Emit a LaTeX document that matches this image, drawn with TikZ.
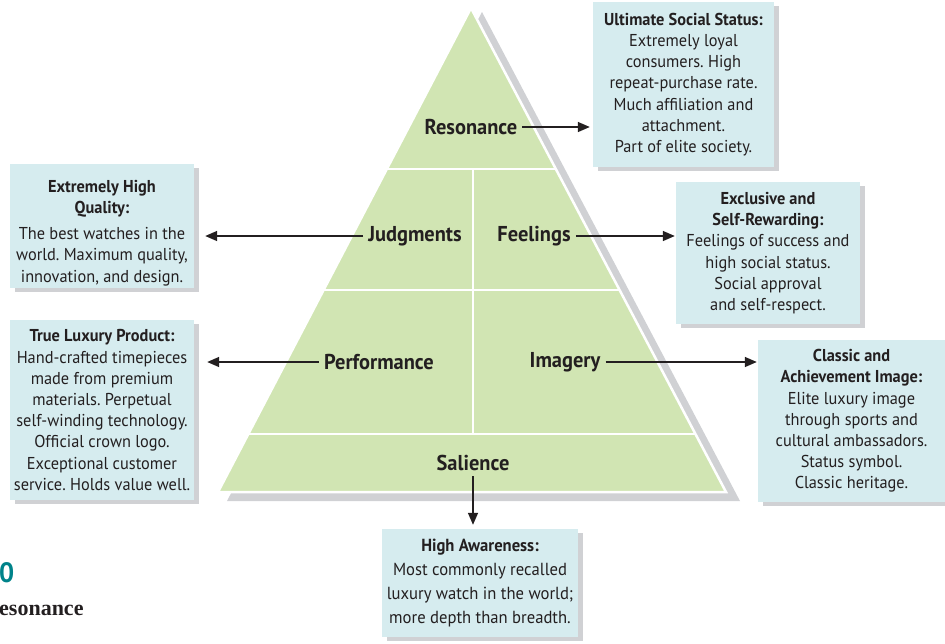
\documentclass[tikz,border=0pt]{standalone}
\usepackage{fontspec}
\setmainfont[FakeStretch=0.95]{PT Sans}
\newfontfamily\capserif{Liberation Serif}
\usetikzlibrary{arrows.meta,shadows}
\definecolor{pgreen}{RGB}{209,229,179}
\definecolor{bcyan}{RGB}{214,236,239}
\definecolor{shgray}{RGB}{208,209,212}
\definecolor{txt}{RGB}{35,31,32}
\definecolor{teal0}{RGB}{0,131,138}
\frenchspacing
\begin{document}
\begin{tikzpicture}[x=1pt,y=-1pt,
  infobox/.style={fill=bcyan, text=txt, align=center, inner xsep=2pt, inner ysep=0pt,
    font=\fontsize{17.2}{21.2}\selectfont,
    drop shadow={shadow xshift=5pt, shadow yshift=-4pt, fill=shgray, opacity=1}},
  level/.style={text=txt, font=\fontsize{21.5}{24}\selectfont\bfseries, inner sep=5pt},
  arr/.style={draw=txt, line width=1.5pt, -{Triangle[length=12pt,width=10pt]}},
  divider/.style={draw=white, line width=2.5pt}]
\useasboundingbox (0,0) rectangle (945,643);
% pyramid shadow and body
\fill[shgray] (482,12) -- (740,501) -- (227,501) -- cycle;
\coordinate (apex) at (471,8);
\coordinate (bl) at (218,492);
\coordinate (br) at (726,492);
\filldraw[fill=pgreen, draw=white, line width=2.5pt, line join=miter] (apex) -- (br) -- (bl) -- cycle;
\begin{scope}
  \clip (apex) -- (br) -- (bl) -- cycle;
  \draw[divider] (200,169) -- (760,169);
  \draw[divider] (200,290) -- (760,290);
  \draw[divider] (200,434) -- (760,434);
  \draw[divider] (473,169) -- (473,434);
\end{scope}
% level labels
\node[level] (res) at (471,127) {Resonance};
\node[level] (judg) at (415,236) {Judgments};
\node[level] (feel) at (534,236) {Feelings};
\node[level] (perf) at (379,362) {Performance};
\node[level] (imag) at (565,362) {Imagery};
\node[level] (sal) at (473,463) {Salience};
% boxes
\node[infobox, minimum width=181pt, minimum height=165pt] (b1) at (683.5,84.5)
  {\textbf{Ultimate Social Status:}\\Extremely loyal\\consumers. High\\repeat-purchase rate.\\Much affiliation and\\attachment.\\Part of elite society.};
\node[infobox, minimum width=184pt, minimum height=124pt] (b2) at (102,226)
  {\rule{0pt}{26pt}\textbf{Extremely High}\\\textbf{Quality:}\\[5pt]The best watches in the\\world. Maximum quality,\\innovation, and design.};
\node[infobox, minimum width=184pt, minimum height=142pt] (b3) at (768,253)
  {\textbf{Exclusive and}\\\textbf{Self-Rewarding:}\\Feelings of success and\\high social status.\\Social approval\\and self-respect.};
\node[infobox, minimum width=184pt, minimum height=180pt] (b4) at (102,410)
  {\textbf{True Luxury Product:}\\Hand-crafted timepieces\\made from premium\\materials. Perpetual\\self-winding technology.\\Official crown logo.\\Exceptional customer\\service. Holds value well.};
\node[infobox, minimum width=187pt, minimum height=162pt] (b5) at (851.5,421)
  {\textbf{Classic and}\\\textbf{Achievement Image:}\\Elite luxury image\\through sports and\\cultural ambassadors.\\Status symbol.\\Classic heritage.};
\node[infobox, minimum width=196pt, minimum height=108pt, font=\fontsize{17.5}{24}\selectfont] (b6) at (480,583)
  {\textbf{High Awareness:}\\Most commonly recalled\\luxury watch in the world;\\more depth than breadth.};
% arrows
\draw[arr, shorten >=3pt] (res.east) -- (res.east -| b1.west);
\draw[arr, shorten >=11pt] (judg.west) -- (judg.west -| b2.east);
\draw[arr, shorten >=1pt] (feel.east) -- (feel.east -| b3.west);
\draw[arr, shorten >=13pt] (perf.west) -- (perf.west -| b4.east);
\draw[arr, shorten >=1pt] (imag.east) -- (imag.east -| b5.west);
\draw[arr, shorten >=4pt] (sal.south) -- (sal.south |- b6.north);
% partial caption fragments
\node[anchor=west, inner sep=0pt, text=teal0, font=\fontsize{28}{28}\selectfont\bfseries] (fig) at (-1,573) {0};
\node[anchor=base west, inner sep=0pt, text=txt, font=\capserif\fontsize{22}{24}\selectfont\bfseries] (cap) at (-1,615) {esonance};
\end{tikzpicture}
\end{document}
